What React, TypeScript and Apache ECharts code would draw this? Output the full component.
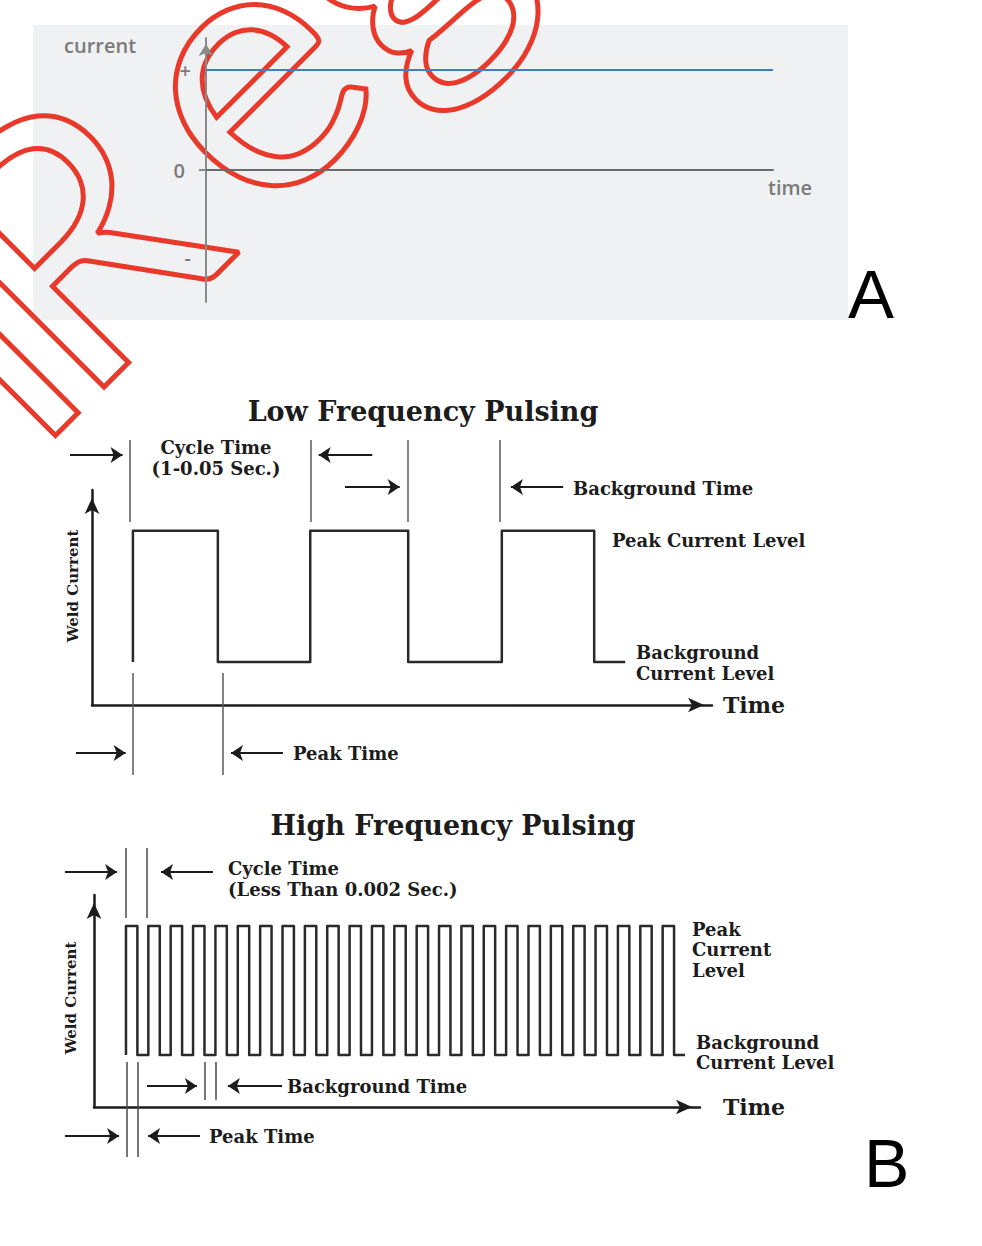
import React, { useEffect, useRef } from "react";
import * as echarts from "echarts";

// ---------- Panel A : constant current ----------
const aTime = [0, 10];
const aCurrent = [1, 1];
const aTickValues = [1, 0, -0.87];
const aTickLabels = ["+", "0", "-"];

// ---------- Low frequency pulsing (x: 0..100, y: 0..10) ----------
const lfRise = [6.6, 35.2, 66.1];
const lfFall = [20.3, 51.0, 81.0];
const lfEnd = 86.0;
const lfPeak = 8.1;
const lfBackground = 2.0;
const lfDimX = [6.13, 35.3, 51.0, 65.8, 6.61, 21.13];
const lfDimFrom = [8.51, 8.51, 8.51, 8.51, 1.49, 1.49];
const lfDimTo = [12.33, 12.33, 12.33, 12.33, -3.26, -3.26];
const lfArrowFrom = [-3.55, 45.2, 40.8, 76.0, -2.58, 30.8];
const lfArrowTo = [5.9, 35.6, 50.6, 66.6, 6.4, 21.45];
const lfArrowY = [11.63, 11.63, 10.14, 10.14, -2.23, -2.23];

// ---------- High frequency pulsing (x: 0..27.1, y: 0..10) ----------
const hfRise = [1.43, 2.43, 3.43, 4.43, 5.43, 6.43, 7.43, 8.43, 9.43, 10.43, 11.43, 12.43, 13.43, 14.43, 15.43, 16.43, 17.43, 18.43, 19.43, 20.43, 21.43, 22.43, 23.43, 24.43, 25.43];
const hfFall = [1.94, 2.94, 3.94, 4.94, 5.94, 6.94, 7.94, 8.94, 9.94, 10.94, 11.94, 12.94, 13.94, 14.94, 15.94, 16.94, 17.94, 18.94, 19.94, 20.94, 21.94, 22.94, 23.94, 24.94, 25.94];
const hfEnd = 26.43;
const hfPeak = 8.54;
const hfBackground = 2.45;
const hfDimX = [1.43, 2.37, 1.48, 1.97, 4.96, 5.43];
const hfDimFrom = [8.92, 8.92, 2.12, 2.12, 2.12, 2.12];
const hfDimTo = [12.22, 12.22, -2.36, -2.36, 0.33, 0.33];
const hfArrowFrom = [-1.3, 5.32, 2.37, 8.41, -1.3, 4.74];
const hfArrowTo = [1.3, 2.73, 4.87, 5.72, 1.39, 2.15];
const hfArrowY = [11.08, 11.08, 0.99, 0.99, -1.37, -1.37];

const SERIF = "'DejaVu Serif', serif";
const INK = "#1c1c1c";
const ARROW = 12;

function wave(rise: number[], fall: number[], peak: number, base: number, end: number) {
  const pts: number[][] = [];
  for (let i = 0; i < rise.length; i++) {
    pts.push([rise[i], base], [rise[i], peak], [fall[i], peak], [fall[i], base]);
  }
  pts.push([end, base]);
  return pts;
}

function dims(xs: number[], y0: number[], y1: number[]) {
  return xs.map((x, i) => ({ coords: [[x, y0[i]], [x, y1[i]]] }));
}

function arrows(from: number[], to: number[], y: number[], headUnits: number) {
  return from.map((f, i) => {
    const dir = to[i] > f ? 1 : -1;
    return { coords: [[f, y[i]], [to[i] - dir * headUnits, y[i]]] };
  });
}

function measure(text: string, font: string) {
  const c = document.createElement("canvas").getContext("2d");
  if (!c) return 0.62 * 360;
  c.font = font;
  return c.measureText(text).width;
}

const diagramAxisLine = {
  show: true,
  onZero: true,
  symbol: ["none", "arrow"],
  symbolSize: [11, 16],
  symbolOffset: [0, -8],
  lineStyle: { color: INK, width: 2.5 },
};

function hiddenBits() {
  return {
    axisTick: { show: false },
    axisLabel: { show: false },
    splitLine: { show: false },
  };
}

type Lbl = { t: string; x: number; y: number; a?: string; s?: number; r?: number };
const diagramLabels: Lbl[] = [
  { t: "Low Frequency Pulsing", x: 423, y: 411, a: "center", s: 27 },
  { t: "Cycle Time", x: 216, y: 447, a: "center" },
  { t: "(1-0.05 Sec.)", x: 216, y: 468, a: "center" },
  { t: "Background Time", x: 573, y: 488 },
  { t: "Peak Current Level", x: 612, y: 540 },
  { t: "Background", x: 636, y: 652 },
  { t: "Current Level", x: 636, y: 673 },
  { t: "Peak Time", x: 293, y: 753 },
  { t: "Weld Current", x: 73, y: 586, a: "center", s: 15, r: Math.PI / 2 },
  { t: "High Frequency Pulsing", x: 453, y: 825, a: "center", s: 27 },
  { t: "Cycle Time", x: 228, y: 868 },
  { t: "(Less Than 0.002 Sec.)", x: 228, y: 889 },
  { t: "Peak", x: 692, y: 929 },
  { t: "Current", x: 692, y: 949 },
  { t: "Level", x: 692, y: 970 },
  { t: "Background", x: 696, y: 1042 },
  { t: "Current Level", x: 696, y: 1062 },
  { t: "Background Time", x: 287, y: 1086 },
  { t: "Peak Time", x: 209, y: 1136 },
  { t: "Weld Current", x: 71, y: 998, a: "center", s: 15, r: Math.PI / 2 },
];

function buildOption() {
  const wmFont = "360px Lato, sans-serif";
  const rAdvance = measure("R", wmFont);

  const graphics: any[] = [
    {
      type: "rect",
      z: -10,
      shape: { x: 33, y: 25, width: 815, height: 295 },
      style: { fill: "#f0f1f3" },
      silent: true,
    },
    {
      type: "text",
      x: 64,
      y: 45,
      style: {
        text: "current",
        fill: "#7b7b7b",
        font: "600 20px 'Open Sans', sans-serif",
        textAlign: "left",
        textVerticalAlign: "middle",
      },
    },
    {
      type: "text",
      x: 768,
      y: 187,
      style: {
        text: "time",
        fill: "#7b7b7b",
        font: "600 20px 'Open Sans', sans-serif",
        textAlign: "left",
        textVerticalAlign: "middle",
      },
    },
    {
      type: "text",
      x: 848,
      y: 294,
      style: {
        text: "A",
        fill: "#000",
        font: "69px 'Liberation Sans', Arial, sans-serif",
        textAlign: "left",
        textVerticalAlign: "middle",
      },
    },
    {
      type: "text",
      x: 864,
      y: 1163,
      style: {
        text: "B",
        fill: "#000",
        font: "68px 'Liberation Sans', Arial, sans-serif",
        textAlign: "left",
        textVerticalAlign: "middle",
      },
    },
  ];

  diagramLabels.forEach((l) => {
    graphics.push({
      type: "text",
      x: l.x,
      y: l.y,
      rotation: l.r || 0,
      style: {
        text: l.t,
        fill: INK,
        font: `bold ${l.s || 18}px ${SERIF}`,
        textAlign: l.a || "left",
        textVerticalAlign: "middle",
      },
    });
  });

  // red outlined watermark lettering
  const wmStyle = {
    fill: "rgba(0,0,0,0)",
    stroke: "#e8392a",
    lineWidth: 5,
    lineJoin: "round",
    font: wmFont,
    textVerticalAlign: "middle",
  };
  graphics.push({
    type: "group",
    x: 68,
    y: 423,
    rotation: Math.PI / 4,
    z: 100,
    silent: true,
    children: [
      { type: "text", x: 38, y: -139, style: { ...wmStyle, text: "Un", textAlign: "right" } },
      { type: "text", x: 18, y: -139, style: { ...wmStyle, text: "R", textAlign: "left" } },
      { type: "text", x: 18 + rAdvance + 30, y: -139, style: { ...wmStyle, text: "egistered", textAlign: "left" } },
    ],
  });

  return {
    animation: false,
    grid: [
      { left: 206, top: 38, width: 567, height: 264 },
      { left: 92, top: 490, width: 620, height: 215 },
      { left: 94, top: 895, width: 606, height: 212 },
    ],
    xAxis: [
      {
        gridIndex: 0,
        type: "value",
        min: 0,
        max: 10,
        axisLine: { show: true, onZero: true, lineStyle: { color: "#6a6a6a", width: 2 } },
        ...hiddenBits(),
      },
      {
        gridIndex: 1,
        type: "value",
        min: 0,
        max: 100,
        name: "Time",
        nameLocation: "end",
        nameGap: 11,
        nameTextStyle: { fontFamily: SERIF, fontWeight: "bold", fontSize: 22, color: INK },
        axisLine: diagramAxisLine,
        ...hiddenBits(),
      },
      {
        gridIndex: 2,
        type: "value",
        min: 0,
        max: 27.1,
        name: "Time",
        nameLocation: "end",
        nameGap: 23,
        nameTextStyle: { fontFamily: SERIF, fontWeight: "bold", fontSize: 22, color: INK },
        axisLine: diagramAxisLine,
        ...hiddenBits(),
      },
    ],
    yAxis: [
      {
        gridIndex: 0,
        type: "value",
        min: -1.32,
        max: 1.32,
        axisLine: {
          show: true,
          onZero: true,
          symbol: ["none", "arrow"],
          symbolSize: [11, 12],
          symbolOffset: [0, -6],
          lineStyle: { color: "#8a8a8a", width: 2 },
        },
        axisTick: { show: true, customValues: [0], length: 7, lineStyle: { color: "#8a8a8a", width: 2 } },
        axisLabel: {
          show: true,
          customValues: aTickValues,
          margin: 15,
          color: "#7b7b7b",
          fontSize: 20,
          fontFamily: "'Open Sans', sans-serif",
          fontWeight: 600,
          formatter: (v: number) => {
            const i = aTickValues.indexOf(v);
            const t = i >= 0 ? aTickLabels[i] : "";
            return t === "0" ? "{z|0}" : t;
          },
          rich: {
            z: {
              padding: [0, 6, 0, 0],
              color: "#7b7b7b",
              fontSize: 20,
              fontFamily: "'Open Sans', sans-serif",
              fontWeight: 600,
            },
          },
        },
        splitLine: { show: false },
      },
      { gridIndex: 1, type: "value", min: 0, max: 10, axisLine: diagramAxisLine, ...hiddenBits() },
      { gridIndex: 2, type: "value", min: 0, max: 10, axisLine: diagramAxisLine, ...hiddenBits() },
    ],
    graphic: { elements: graphics },
    series: [
      {
        name: "current",
        type: "line",
        xAxisIndex: 0,
        yAxisIndex: 0,
        data: aTime.map((t, i) => [t, aCurrent[i]]),
        symbol: "none",
        lineStyle: { color: "#3d7ed4", width: 2 },
      },
      {
        name: "Low frequency current",
        type: "line",
        xAxisIndex: 1,
        yAxisIndex: 1,
        data: wave(lfRise, lfFall, lfPeak, lfBackground, lfEnd),
        symbol: "none",
        clip: false,
        lineStyle: { color: "#2a2a2a", width: 2.5, join: "round" },
      },
      {
        type: "lines",
        coordinateSystem: "cartesian2d",
        xAxisIndex: 1,
        yAxisIndex: 1,
        clip: false,
        symbol: "none",
        lineStyle: { color: "#5a5a5a", width: 1.5, opacity: 1 },
        data: dims(lfDimX, lfDimFrom, lfDimTo),
      },
      {
        type: "lines",
        coordinateSystem: "cartesian2d",
        xAxisIndex: 1,
        yAxisIndex: 1,
        clip: false,
        symbol: ["none", "arrow"],
        symbolSize: ARROW,
        lineStyle: { color: INK, width: 2, opacity: 1 },
        data: arrows(lfArrowFrom, lfArrowTo, lfArrowY, ARROW / 2 / 6.2),
      },
      {
        name: "High frequency current",
        type: "line",
        xAxisIndex: 2,
        yAxisIndex: 2,
        data: wave(hfRise, hfFall, hfPeak, hfBackground, hfEnd),
        symbol: "none",
        clip: false,
        lineStyle: { color: "#2a2a2a", width: 2.5, join: "round" },
      },
      {
        type: "lines",
        coordinateSystem: "cartesian2d",
        xAxisIndex: 2,
        yAxisIndex: 2,
        clip: false,
        symbol: "none",
        lineStyle: { color: "#4a4a4a", width: 1.5, opacity: 1 },
        data: dims(hfDimX, hfDimFrom, hfDimTo),
      },
      {
        type: "lines",
        coordinateSystem: "cartesian2d",
        xAxisIndex: 2,
        yAxisIndex: 2,
        clip: false,
        symbol: ["none", "arrow"],
        symbolSize: ARROW,
        lineStyle: { color: INK, width: 2, opacity: 1 },
        data: arrows(hfArrowFrom, hfArrowTo, hfArrowY, ARROW / 2 / 22.36),
      },
    ],
  };
}

export default function App() {
  const ref = useRef<HTMLDivElement>(null);
  useEffect(() => {
    if (!ref.current) return;
    const chart = echarts.init(ref.current, null, { renderer: "svg" });
    chart.setOption(buildOption() as any);
    return () => chart.dispose();
  }, []);
  return (
    <div
      ref={ref}
      style={{ position: "absolute", left: 0, top: 0, width: 982, height: 1246, background: "#fff" }}
    />
  );
}
